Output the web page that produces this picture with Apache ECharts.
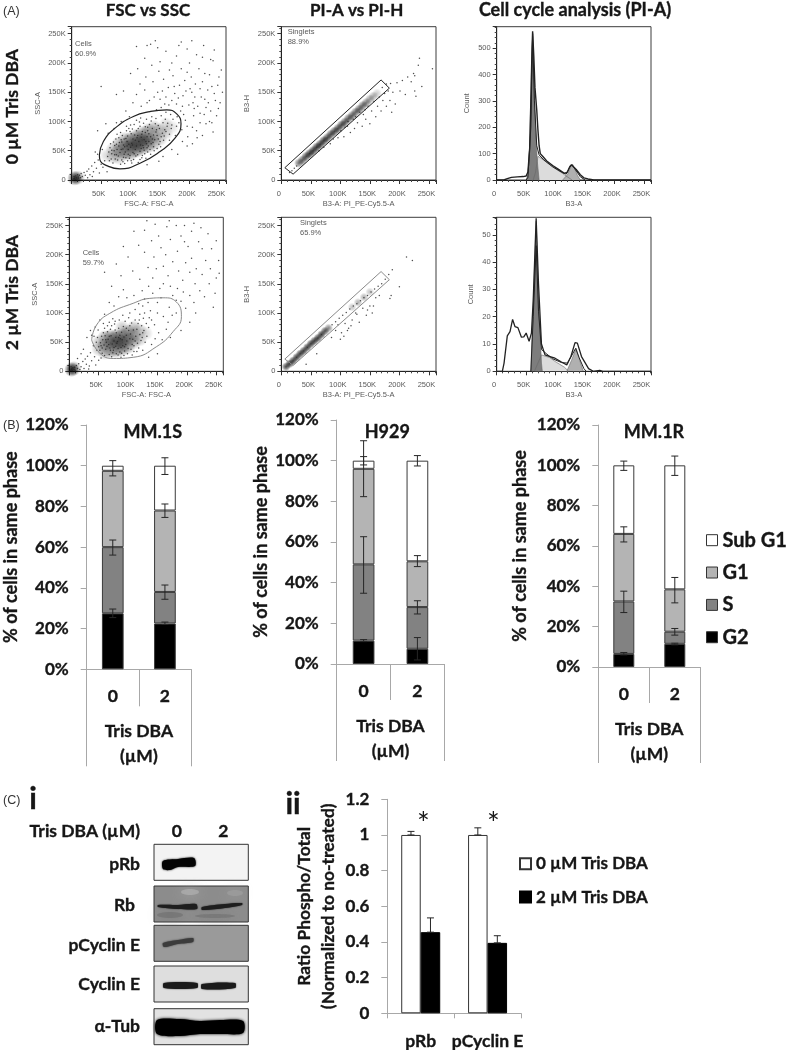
<!DOCTYPE html>
<html><head><meta charset="utf-8">
<style>html,body{margin:0;padding:0;background:#fff}#c{width:788px;height:1050px}</style>
<script src="https://cdn.jsdelivr.net/npm/echarts@6/dist/echarts.min.js"></script>
</head><body><div id="c"></div>
<script>
// ---------- data (flow panels in thousands) ----------
const fscTopPoints=[97,61,118,73,84,52,131,66,104,47,92,71,143,82,76,43,110,58,125,91,67,36,139,57,101,79,88,39,116,49,152,74,73,59,129,84,95,33,108,68,147,93,81,64,122,55,135,101,63,48,113,88,99,42,90,57,127,62,158,86,70,29,106,95,141,69,86,76,119,38,133,52,78,34,102,63,155,98,93,84,65,55,124,45,111,72,148,61,83,27,137,88,96,52,75,70,115,99,128,74,89,44,162,92,105,35,143,105,72,50,120,83,100,56,132,95,80,58,109,41,150,66,94,66,126,37,61,40,117,60,139,77,87,31,103,87,154,80,77,52,123,69,145,54,91,48,113,30,68,45,135,62,107,77,159,104,98,37,84,69,129,48,116,92,74,36,142,96,95,75,121,59,166,78,82,47,110,102,131,79,66,62,149,88,101,33,88,60,125,81,112,43,137,70,79,41,156,68,93,92,118,54,104,70,145,76,71,65,127,104,85,34,134,44,99,83,163,97,114,66,90,28,140,50,76,61,122,97,108,52,152,110,83,81,130,58,96,44,119,78,64,33,147,70,103,60,87,53,136,108,112,76,73,43,126,66,100,94,157,75,92,38,144,86,80,72,116,35,129,90,106,45,169,88,68,51,123,51,138,64,94,58,110,84,85,65,151,57,120,42,102,29,134,74,77,78,117,106,160,83,89,70,128,55,97,88,
172,104,185,118,196,92,178,130,207,110,165,128,189,144,214,126,201,156,175,148,226,138,158,130,193,102,218,98,236,118,183,162,209,142,168,112,244,136,199,128,222,168,187,86,231,154,176,76,212,84,249,122,203,176,160,142,238,98,192,170,225,112,181,140,216,190,248,162,170,94,206,132,234,180,197,74,152,124,242,148,188,126,220,142,164,158,210,164,228,96,254,188,179,108,194,152,240,204,172,178,205,90,232,132,150,138,218,114,186,190,246,110,200,200,226,182,166,68,238,160,213,72,256,150,190,112,174,160,222,210,144,120,236,206,208,122,182,98,250,176,196,184,228,124,160,116,242,222,204,150,218,156,178,92,234,100,170,136,252,132,146,150,224,230,
124,154,138,168,110,146,156,172,132,136,148,186,118,126,104,132,92,118,126,176,140,142,170,200,154,152,116,164,98,108,160,220,136,196,178,212,84,100,146,226,124,208,186,236,112,190,128,132,76,98,196,224,134,232,204,238,166,188,72,88,150,202,212,214,110,228,142,238,128,230,182,230,88,152,76,146,58,96,50,160,44,84,100,182,62,80,
3,2,5,3,6,1,8,4,4,6,9,2,11,5,7,7,12,3,13,8,15,4,10,9,16,11,18,6,21,13,23,8,26,15,29,19,31,9,34,24,37,14,39,30,42,20,45,34,47,12,50,27,53,22,56,33,27,4,35,6,60,14,44,44,52,52,40,48,
155,40,170,52,188,66,205,62,222,76,240,82,180,44,196,58,148,32,128,26];
const fscBottomPoints=[82,51,64,43,97,62,75,36,108,55,58,66,91,44,70,72,120,63,53,49,86,33,103,78,62,38,116,48,79,58,95,86,48,58,127,70,68,29,89,67,112,88,73,47,100,39,56,31,131,82,84,74,66,55,107,46,93,27,77,81,122,53,60,74,88,41,115,72,50,42,98,52,71,61,126,91,83,28,104,64,63,50,92,77,118,40,55,60,79,43,110,34,68,84,135,75,87,56,74,32,101,92,59,45,124,58,94,35,80,66,113,60,46,50,69,40,106,83,90,54,65,78,120,98,76,52,99,30,52,36,85,88,129,50,72,25,109,71,61,61,96,46,78,71,117,82,57,54,88,24,103,56,67,46,125,66,83,39,49,71,93,59,110,44,74,90,136,92,60,27,101,70,81,48,115,34,70,36,91,96,54,44,123,78,86,62,65,68,107,28,97,74,76,41,132,60,58,82,112,52,89,31,68,60,103,100,80,30,119,88,62,54,94,42,72,78,128,100,84,58,56,40,105,38,78,86,
145,80,160,94,152,66,138,104,170,110,125,112,150,118,182,100,140,88,165,72,112,106,176,130,156,126,190,120,134,118,146,56,168,84,198,108,128,124,184,142,142,134,205,130,118,116,160,150,175,96,212,118,154,142,193,156,135,146,222,138,168,164,150,100,205,170,182,122,226,166,124,138,198,186,160,180,238,150,142,160,214,150,186,172,232,190,172,146,250,160,148,176,208,194,120,158,194,136,226,210,164,200,240,176,134,178,216,176,184,206,248,134,156,212,202,214,110,130,230,128,176,188,98,126,242,210,144,196,220,222,190,232,254,190,128,204,172,226,208,240,108,172,236,236,152,232,92,140,196,250,118,216,166,248,84,128,224,246,140,224,76,112,250,224,100,196,182,250,128,242,88,164,68,118,146,252,72,146,110,240,60,98,212,254,52,88,92,214,44,76,80,184,38,62,132,258,60,170,170,258,196,222,255,168,
2,2,4,4,5,1,6,6,8,3,3,8,9,7,10,2,12,10,14,5,16,13,18,3,20,8,23,17,25,5,27,21,29,12,31,26,34,9,36,32,38,18,41,44,43,25,45,11,47,36,33,4,50,19,30,58,24,38,20,30,14,22,54,23,42,60,36,70,
125,36,140,46,158,54,172,58,190,70,150,30,135,24,205,84,215,100,245,110];
const singletTopPoints=[14,13,18,16,22,20,26,24,64,50,72,56,83,62,88,70,96,72,101,84,106,74,112,92,117,81,122,104,124,88,129,98,133,116,137,92,139,112,143,104,147,126,150,96,153,118,157,134,160,108,163,126,166,142,169,118,172,136,175,148,178,126,181,152,184,136,187,116,189,150,193,130,196,166,201,152,205,170,210,146,214,176,220,168,224,182,226,152,228,143,232,196,234,208,238,160,256,190,226,178,185,165,178,164,171,158,113,100,108,90,142,120,126,108];
const singletBottomPoints=[42,12,60,30,85,58,92,70,96,80,102,66,106,60,108,82,114,74,120,88,126,100,132,84,138,108,144,96,150,112,154,100,160,126,166,130,146,105,128,98,118,78,100,55,112,70,184,125,186,130,200,145,212,196,222,190,188,174,182,166,176,158,170,150,164,146,158,141,152,136,146,130,140,126,134,121,128,116,122,112,116,107,110,101,104,96,98,91,92,85,86,80,156,112];
const fscTopCore=[[60,42,.2],[70,40,.3],[70,52,.35],[80,38,.3],[80,50,.5],[80,62,.4],[90,45,.55],[90,58,.65],[90,70,.4],[100,45,.5],[100,58,.8],[100,70,.6],[110,50,.6],[110,62,.85],[110,75,.6],[120,55,.65],[120,68,.85],[120,80,.5],[130,58,.5],[130,70,.7],[130,85,.45],[140,62,.4],[140,75,.5],[140,90,.35],[150,70,.3],[150,85,.35],[160,80,.25],[160,95,.2],[170,90,.15],[5,3,.9],[10,4,.6]];
const fscBottomCore=[[50,38,.3],[50,50,.3],[60,32,.35],[60,45,.55],[60,58,.45],[70,35,.5],[70,48,.7],[70,60,.55],[80,35,.5],[80,48,.8],[80,60,.65],[90,38,.55],[90,50,.8],[90,62,.6],[90,75,.3],[100,42,.5],[100,55,.65],[100,68,.5],[110,50,.4],[110,62,.5],[110,75,.35],[120,55,.3],[120,70,.3],[130,65,.2],[4,3,1],[8,5,.6]];
const singletTopCore=[[30,29,.7],[36,34,.8],[42,40,.9],[48,45,1],[54,50,1],[60,56,1],[66,61,1],[72,67,1],[78,72,.9],[84,78,.9],[90,83,.9],[96,88,.9],[102,94,.9],[108,99,.85],[114,105,.8],[120,110,.8],[126,116,.75],[132,121,.8],[138,127,.75],[144,132,.65],[150,138,.5],[156,143,.4],[162,148,.25]];
const singletBottomCore=[[8,8,.9],[14,13,1],[20,18,1],[26,24,1],[32,30,1],[38,35,1],[44,41,1],[50,47,1],[56,52,1],[62,57,1],[68,63,1],[74,69,.9],[80,74,.6],[120,110,.3],[130,118,.4],[140,127,.4],[150,136,.3]];
const gateEllipseTop=[[47,43],[53.8,65.7],[73.6,88.6],[104.7,108.6],[133,117],[161.3,120],[178.3,113],[185.6,96],[175.4,71.4],[150,48.6],[116,28.6],[82,19],[59.4,24.6],[48,34],[47,43]];
const gateEllipseBottom=[[38,53.7],[46.4,79.4],[69,99.4],[108.7,116.6],[137,125],[159.6,126],[182,119],[190.7,93.7],[176.6,68],[148,42],[108.7,24],[74.7,22],[52,31],[38,53.7]];
const gateSinglets=[[6,21],[169,171],[183,157],[20,10],[6,21]];
const histTopOutline=[[0,0],[12,0],[18,5],[25,10],[35,12],[45,13],[50,15],[53,30],[56,120],[58,300],[60,500],[61,564],[63,470],[65,350],[68,265],[70,190],[72,130],[74,100],[78,90],[85,72],[95,55],[105,40],[115,25],[120,30],[124,50],[127,58],[130,55],[135,40],[142,20],[148,8],[155,4],[165,0],[262,0]];
const histTopFit=[[50,0],[53,10],[58,200],[61,555],[64,300],[68,130],[72,95],[80,76],[95,50],[110,30],[118,22],[124,48],[128,58],[134,38],[142,12],[150,0]];
const histTopG1=[[50,0],[53,20],[56,120],[59,400],[61,545],[63,400],[66,200],[69,70],[72,0]];
const histTopS=[[62,0],[66,30],[70,90],[80,75],[90,58],[100,42],[110,28],[120,12],[128,0]];
const histTopG2=[[112,0],[120,20],[126,50],[129,58],[133,40],[137,18],[142,0]];
const histBottomOutline=[[0,0],[9.6,0],[12.5,3],[18,13],[22.6,14.5],[27,19],[31,16.4],[36,16],[42,12.5],[46,12.6],[50,14],[55,11],[59,14],[62,26],[67,56],[71,32],[76,10],[82,6],[90.5,5.4],[99,4.8],[110,3.4],[119,2.3],[126,5.4],[133,10.5],[137,10.3],[144,5.4],[156,1],[164,0],[175,.3],[180,0],[262,0]];
const histBottomFit=[[58,0],[62,20],[67,46],[71,22],[76,8],[84,6.5],[95,4.6],[110,3.2],[120,3],[128,6],[134,8.4],[140,5],[148,1],[152,0]];
const histBottomG1=[[58,0],[62,24],[67,55],[71,26],[76,3],[77.5,0]];
const histBottomS=[[64,0],[76,6],[90,5],[100,3.5],[115,1.5],[122,0]];
const histBottomG2=[[119,0],[127,4],[135,8.4],[141,4],[147,0]];

const phases=['G2','S','G1','Sub G1'];
const phaseColors=['#000000','#828282','#b4b4b4','#ffffff'];
const doses=['0','2'];
const mm1sPhases=[[27.5,22.5],[32.5,15.5],[37.5,40],[2.5,22]];
const h929Phases=[[11.5,7.5],[37.5,20.5],[47,22.5],[4,49.5]];
const mm1rPhases=[[6.5,11.5],[26,6],[33.5,21],[34,61.5]];
const mm1sErrors=[[0,25.4,29.6],[0,56.1,63.5],[0,95,102.5],[1,22,23.2],[1,34.4,41.4],[1,74.6,81.2],[1,95.7,103.9]];
const h929Errors=[[0,11,12],[0,34.8,62.6],[0,82.3,109.8],[0,97.9,102],[1,2,13],[1,24.6,31.1],[1,47.9,53.3],[1,97.4,102.5]];
const mm1rErrors=[[0,6,7.2],[0,27,37.6],[0,62,69.5],[0,97.5,102.1],[1,11,11.8],[1,15.8,19.1],[1,31.8,44.4],[1,95,104.6]];

const targets=['pRb','pCyclin E'];
const ratio0=[1,1];
const ratio2=[0.455,0.395];
const ratio0Err=[[0,1,1.02],[1,1,1.04]];
const ratio2Err=[[0,0.455,0.535],[1,0.395,0.435]];
// ---------- helpers ----------
const BOLD='Lato, "Open Sans", sans-serif';
const SMALL='"Liberation Sans", Arial, sans-serif';
const INK='#161616', GREY='#a8a8a8', SMALLC='#5a5a5a';
const HEAVY={fontFamily:BOLD,fontWeight:'bold',color:INK,textBorderColor:INK,textBorderWidth:.35};
const pairs=f=>{const o=[];for(let i=0;i<f.length;i+=2)o.push([f[i],f[i+1]]);return o;};
const grid=[],xAxis=[],yAxis=[],series=[],graphic=[];
const txt=(text,x,y,o={})=>graphic.push({type:'text',x,y,rotation:o.rot||0,silent:true,z:50,
  style:{text,fill:o.fill||INK,font:`${o.weight||'bold'} ${o.size||17}px ${o.family||BOLD}`,align:o.align||'center',verticalAlign:'middle',
    stroke:o.family?undefined:(o.fill||INK),lineWidth:o.family||o.weight?0:.35}});

function flowGrid(l,t,r,b,ymax,ystep,showX0,xname,yname,yNameGap){
  const i=grid.length;
  grid.push({left:l,top:t,width:r-l,height:b-t,show:true,borderColor:'#3c3c3c',borderWidth:1,backgroundColor:'#fff',outerBoundsMode:'none'});
  const common={axisLine:{show:true,onZero:false,lineStyle:{color:'#222',width:1}},axisTick:{show:true,length:4,lineStyle:{color:'#333'}},
    minorTick:{show:true,length:2,splitNumber:5,lineStyle:{color:'#444'}},splitLine:{show:false},minorSplitLine:{show:false},
    nameTextStyle:{fontFamily:SMALL,fontSize:7.5,color:SMALLC}};
  xAxis.push({...common,gridIndex:i,type:'value',min:0,max:262,interval:50,name:xname,nameLocation:'middle',nameGap:20,
    axisLabel:{fontFamily:SMALL,fontSize:7.5,color:SMALLC,margin:10,padding:[0,5,0,0],showMaxLabel:false,formatter:v=>(v===0?(showX0?'0':''):(v%50===0?v+'K':''))}});
  yAxis.push({...common,gridIndex:i,type:'value',min:0,max:ymax,interval:ystep,name:yname,nameLocation:'middle',nameGap:yNameGap,nameRotate:90,
    axisLabel:{fontFamily:SMALL,fontSize:7.5,color:SMALLC,margin:6,showMaxLabel:false,
      formatter:v=>ystep===50?(v===0?'0':(v%50===0?v+'K':'')):(v%ystep===0?String(v):'')}});
  return i;
}
function dots(i,data){series.push({type:'scatter',xAxisIndex:i,yAxisIndex:i,symbolSize:1.5,silent:true,data,itemStyle:{color:'#222',opacity:.8},z:3});}
function core(i,data,size){series.push({type:'scatter',xAxisIndex:i,yAxisIndex:i,symbolSize:size,silent:true,data,z:2,
  itemStyle:{color:p=>new echarts.graphic.RadialGradient(.5,.5,.5,[{offset:0,color:`rgba(0,0,0,${p.value[2]})`},{offset:.55,color:`rgba(0,0,0,${p.value[2]*.55})`},{offset:1,color:'rgba(0,0,0,0)'}])}});}
function gate(i,data,color,smooth,w){series.push({type:'line',xAxisIndex:i,yAxisIndex:i,data,smooth,showSymbol:false,silent:true,z:4,lineStyle:{color,width:w}});}
function histArea(i,data,color){series.push({type:'line',xAxisIndex:i,yAxisIndex:i,data,showSymbol:false,silent:true,z:2,lineStyle:{color:'#666',width:.6},areaStyle:{color,opacity:1}});}
function histLine(i,data,w){series.push({type:'line',xAxisIndex:i,yAxisIndex:i,data,showSymbol:false,silent:true,z:3,lineStyle:{color:'#222',width:w}});}

function errorSeries(xi,yi,data,offset,cap){
  series.push({type:'custom',xAxisIndex:xi,yAxisIndex:yi,z:6,silent:true,data,encode:{x:0,y:[1,2]},
    renderItem:(p,api)=>{
      const a=api.coord([api.value(0),api.value(1)]),b=api.coord([api.value(0),api.value(2)]),x=a[0]+offset;
      const st={stroke:'#262626',lineWidth:1,fill:null};
      return {type:'group',children:[
        {type:'line',shape:{x1:x,y1:a[1],x2:x,y2:b[1]},style:st},
        {type:'line',shape:{x1:x-cap,y1:b[1],x2:x+cap,y2:b[1]},style:st},
        {type:'line',shape:{x1:x-cap,y1:a[1],x2:x+cap,y2:a[1]},style:st}]};
    }});
}
function stackPanel(l,r,t,b,barW,phaseData,errors,lowLen,topLen,name,nameGap,label2Margin){
  const gi=grid.length, xi=xAxis.length, yi=yAxis.length;
  grid.push({left:l,top:t,width:r-l,height:b-t,outerBoundsMode:'none'});
  const line={show:true,lineStyle:{color:GREY,width:1}};
  xAxis.push({gridIndex:gi,type:'category',data:doses,axisLine:line,axisTick:{show:true,length:topLen,lineStyle:{color:GREY}},
    axisLabel:{...HEAVY,fontSize:17.5,margin:18}});
  xAxis.push({gridIndex:gi,type:'category',position:'bottom',data:['Tris DBA\n(µM)'],axisLine:line,axisTick:{show:true,length:lowLen,lineStyle:{color:GREY}},
    axisLabel:{...HEAVY,fontSize:17.5,margin:label2Margin,lineHeight:25}});
  yAxis.push({gridIndex:gi,type:'value',min:0,max:120,interval:20,axisLine:line,axisTick:{show:true,length:6,lineStyle:{color:GREY}},splitLine:{show:false},
    axisLabel:{...HEAVY,fontSize:17,margin:18,formatter:'{value}%'},
    name,nameLocation:'middle',nameGap,nameRotate:90,nameTextStyle:{...HEAVY,fontSize:18}});
  phases.forEach((ph,k)=>series.push({type:'bar',name:ph,xAxisIndex:xi,yAxisIndex:yi,stack:'p'+gi,barWidth:barW,data:phaseData[k],silent:true,
    itemStyle:{color:phaseColors[k],borderColor:'#3a3a3a',borderWidth:1}}));
  errorSeries(xi,yi,errors,0,3.5);
}
// ---------- panel A ----------
const a1=flowGrid(71.7,26.7,226,180,262,50,false,'FSC-A: FSC-A','SSC-A',30);
core(a1,fscTopCore,15);dots(a1,pairs(fscTopPoints));gate(a1,gateEllipseTop,'#222',true,1.2);
const a2=flowGrid(281.3,26.7,436,180,262,50,true,'B3-A: PI_PE-Cy5.5-A','B3-H',30);
core(a2,singletTopCore,10);dots(a2,pairs(singletTopPoints));gate(a2,gateSinglets,'#222',false,1);
const a3=flowGrid(496.7,26.7,651,180,581,100,true,'B3-A','Count',26);
histArea(a3,histTopS,'#dcdcdc');histArea(a3,histTopG1,'#7d7d7d');histArea(a3,histTopG2,'#b0b0b0');histLine(a3,histTopFit,1);histLine(a3,histTopOutline,1.4);
const a4=flowGrid(69.3,217.3,223.3,371.3,264,50,false,'FSC-A: FSC-A','SSC-A',30);
core(a4,fscBottomCore,15);dots(a4,pairs(fscBottomPoints));gate(a4,gateEllipseBottom,'#8a8a8a',true,1);
const a5=flowGrid(281.3,217.3,436,371.3,264,50,true,'B3-A: PI_PE-Cy5.5-A','B3-H',30);
core(a5,singletBottomCore,9);dots(a5,pairs(singletBottomPoints));gate(a5,gateSinglets,'#8a8a8a',false,1);
const a6=flowGrid(496.7,217.3,651,371.3,56.4,10,true,'B3-A','Count',22);
histArea(a6,histBottomS,'#dcdcdc');histArea(a6,histBottomG1,'#7d7d7d');histArea(a6,histBottomG2,'#b0b0b0');histLine(a6,histBottomFit,1);histLine(a6,histBottomOutline,1.3);

txt('FSC vs SSC',148,10.5,{size:17});
txt('PI-A vs PI-H',356.7,10.5,{size:17});
txt('Cell cycle analysis (PI-A)',575,10.5,{size:18});
txt('0 µM Tris DBA',12,106.7,{size:17.5,rot:Math.PI/2});
txt('2 µM Tris DBA',12,292.6,{size:17.5,rot:Math.PI/2});
const sm={size:7.5,family:SMALL,weight:'normal',fill:SMALLC,align:'left'};
txt('Cells',75,44,sm);txt('60.9%',75,53.5,sm);
txt('Singlets',287.7,32,sm);txt('88.9%',287.7,42,sm);
txt('Cells',82.7,252.7,sm);txt('59.7%',82.7,262.5,sm);
txt('Singlets',300,223,sm);txt('65.9%',300,232.5,sm);
const tag={size:12.5,family:SMALL,weight:'normal',fill:'#333',align:'left'};
txt('(A)',3,12,tag);txt('(B)',3,426,tag);txt('(C)',3,801,tag);
// ---------- panel B ----------
stackPanel(86.7,191,425,669.3,21.7,mm1sPhases,mm1sErrors,97,37,'% of cells in same phase',67,50);
stackPanel(336.7,444.3,420,664,21.7,h929Phases,h929Errors,97,36,'% of cells in same phase',67,50);
stackPanel(598.3,700.3,425,667,21,mm1rPhases,mm1rErrors,96,36,'% of cells in same phase',69,50);
txt('MM.1S',152.7,431.7,{size:18});txt('H929',387.3,431.7,{size:18});txt('MM.1R',654,431.7,{size:18});
// ---------- panel C i: blot ----------
const blots=[
 {label:'pRb',top:844.3,fill:'#f3f3f3',ly:864,lx:140},
 {label:'Rb',top:886,fill:'#8c8c8c',ly:905,lx:135},
 {label:'pCyclin E',top:925.3,fill:'#9a9a9a',ly:945,lx:140},
 {label:'Cyclin E',top:966,fill:'#dedede',ly:984,lx:140},
 {label:'α-Tub',top:1008.7,fill:'#e2e2e2',ly:1026,lx:140}];
blots.forEach(b=>{
  graphic.push({type:'rect',shape:{x:154,y:b.top,width:94.3,height:36},style:{fill:b.fill,stroke:'#333',lineWidth:1},silent:true,z:10});
  txt(b.label,b.lx,b.ly,{size:17.5,align:'right'});
});
const band=(pts,fill,blur)=>graphic.push({type:'polygon',shape:{points:pts,smooth:.3},style:{fill,shadowBlur:blur,shadowColor:fill},silent:true,z:12});
const smudge=(cx,cy,rx,ry,fill)=>graphic.push({type:'ellipse',shape:{cx,cy,rx,ry},style:{fill,shadowBlur:12,shadowColor:fill,opacity:.6},silent:true,z:11});
smudge(190,892,9,3,'#b5b5b5');smudge(170,915,13,3,'#6e6e6e');smudge(215,916,20,2,'#707070');smudge(235,893,8,3,'#a2a2a2');
band([[163,861],[178,859],[194,858],[195,866],[178,867],[170,870],[163,869]],'#050505',2);
band([[158,905],[178,905],[196,904],[197,909],[178,909],[158,907]],'#1e1e1e',1.5);
band([[202,907],[225,904],[242,903],[242,905],[225,908],[202,910]],'#1e1e1e',1.5);
band([[163,943],[178,940],[193,938],[193,942],[178,944],[164,947]],'#3c3c3c',2);
band([[164,983],[197,983],[197,988],[164,988]],'#1a1a1a',1.5);
band([[202,984],[235,983],[235,988],[202,989]],'#1a1a1a',1.5);
band([[157,1020],[180,1019],[200,1021],[220,1020],[243,1021],[243,1033],[220,1034],[200,1034],[180,1036],[157,1034]],'#000',3);
txt('Tris DBA (µM)',140,831.7,{size:17.5,align:'right'});txt('0',176.7,831.7,{size:17.5});txt('2',223.3,831.7,{size:17.5});
txt('i',33,799,{size:30});txt('ii',293,804,{size:30});
// ---------- panel C ii ----------
{
  const gi=grid.length,xi=xAxis.length,yi=yAxis.length;
  const line={show:true,lineStyle:{color:GREY,width:1}};
  grid.push({left:387.3,top:799.3,width:133.7,height:214,outerBoundsMode:'none'});
  xAxis.push({gridIndex:gi,type:'category',data:targets,axisLine:line,axisTick:{show:true,length:5,lineStyle:{color:GREY}},
    axisLabel:{...HEAVY,fontSize:17.5,margin:19,interval:0}});
  yAxis.push({gridIndex:gi,type:'value',min:0,max:1.2,interval:.2,axisLine:line,axisTick:{show:true,length:6,lineStyle:{color:GREY}},splitLine:{show:false},
    axisLabel:{...HEAVY,fontSize:17,margin:18},
    name:'Ratio Phospho/Total\n(Normalized to no-treated)',nameLocation:'middle',nameGap:47,nameRotate:90,
    nameTextStyle:{...HEAVY,fontSize:17.4,lineHeight:24}});
  series.push({type:'bar',name:'0 µM Tris DBA',xAxisIndex:xi,yAxisIndex:yi,data:ratio0,barWidth:19.5,barGap:'0%',silent:true,itemStyle:{color:'#fff',borderColor:'#333',borderWidth:1}});
  series.push({type:'bar',name:'2 µM Tris DBA',xAxisIndex:xi,yAxisIndex:yi,data:ratio2,barWidth:19.5,barGap:'0%',silent:true,itemStyle:{color:'#000',borderColor:'#000',borderWidth:1}});
  errorSeries(xi,yi,ratio0Err,-9.75,3.5);
  errorSeries(xi,yi,ratio2Err,9.75,3.5);
}
txt('*',423.3,824,{size:30,weight:'normal'});txt('*',493.3,824,{size:30,weight:'normal'});

const option={animation:false,backgroundColor:'#fff',grid,xAxis,yAxis,series,graphic:{elements:graphic},
 legend:[
  {data:['Sub G1','G1','S','G2'].map(name=>({name,icon:'rect'})),orient:'vertical',left:706,top:530,padding:0,itemWidth:11,itemHeight:11,itemGap:12,itemStyle:{borderColor:'#333',borderWidth:1},selectedMode:false,textStyle:{...HEAVY,fontSize:20}},
  {data:['0 µM Tris DBA','2 µM Tris DBA'].map(name=>({name,icon:'rect'})),orient:'vertical',left:519,top:855,padding:0,itemWidth:11,itemHeight:11,itemGap:16,selectedMode:false,textStyle:{...HEAVY,fontSize:17}}
 ]};
echarts.init(document.getElementById('c'),null,{renderer:'canvas'}).setOption(option);
</script></body></html>
